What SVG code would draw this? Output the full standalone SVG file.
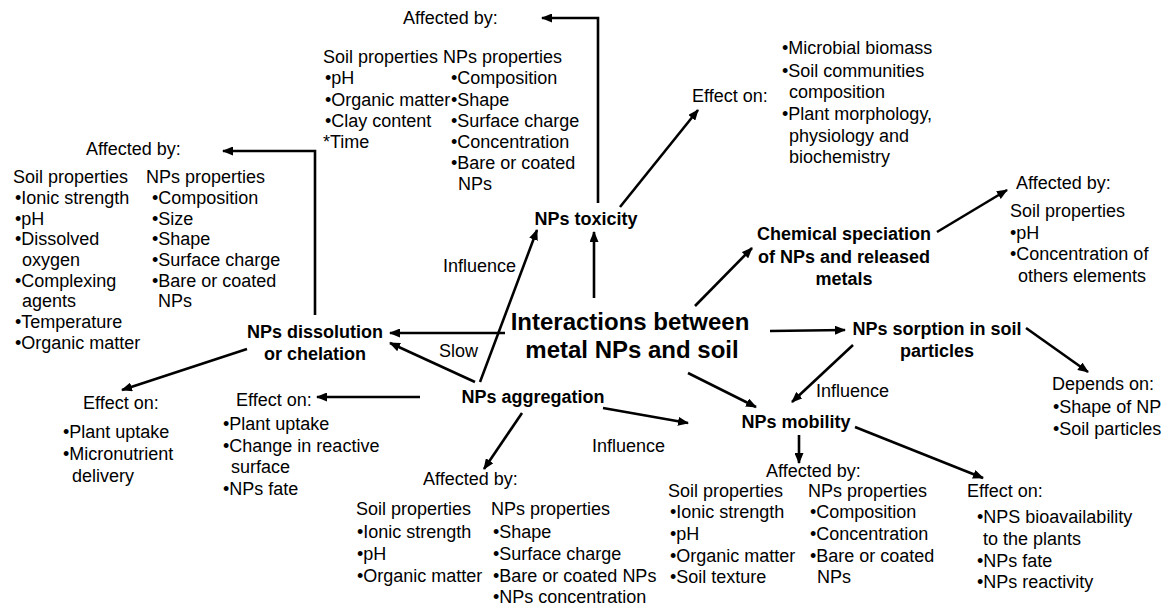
<svg xmlns="http://www.w3.org/2000/svg" width="1167" height="608" viewBox="0 0 1167 608">
<defs>
<marker id="ah" markerUnits="userSpaceOnUse" markerWidth="11" markerHeight="9" refX="10" refY="4.5" orient="auto">
<path d="M0,0 L11,4.5 L0,9 z" fill="#000"/>
</marker>
<style>
text{font-family:"Liberation Sans",Arial,sans-serif;font-size:18px;fill:#000}
.b{font-weight:bold}
.m{text-anchor:middle}
.t{font-size:24px;font-weight:bold;text-anchor:middle}
.c line,.c polyline{stroke:#000;stroke-width:2.6;fill:none;marker-end:url(#ah)}
</style>
</defs>
<rect width="1167" height="608" fill="#fff"/>
<g class="c" id="connectors">
<polyline points="598,203 598,18 542,18"/>
<line x1="620" y1="207" x2="698" y2="110"/>
<polyline points="315,315 315,151 223,151"/>
<line x1="505" y1="333" x2="390" y2="333"/>
<line x1="475" y1="382" x2="390" y2="343"/>
<line x1="480" y1="382" x2="537" y2="230"/>
<line x1="594" y1="298" x2="594" y2="232"/>
<line x1="695" y1="306" x2="752" y2="248"/>
<line x1="688" y1="373" x2="756" y2="407"/>
<line x1="770" y1="331" x2="845" y2="330"/>
<line x1="937" y1="232" x2="1007" y2="190"/>
<line x1="1026" y1="328" x2="1088" y2="372"/>
<line x1="853" y1="345" x2="792" y2="402"/>
<line x1="603" y1="408" x2="688" y2="423"/>
<line x1="799" y1="435" x2="799" y2="463"/>
<line x1="855" y1="427" x2="983" y2="478"/>
<line x1="522" y1="413" x2="484" y2="469"/>
<line x1="420" y1="397" x2="317" y2="397"/>
<line x1="247" y1="349" x2="122" y2="390"/>
</g>
<g id="labels">
<text x="443" y="272">Influence</text>
<text x="439" y="357">Slow</text>
<text x="592" y="452">Influence</text>
<text x="816" y="397">Influence</text>
</g>
<g id="center"><text class="t" x="630" y="330">Interactions between</text><text class="t" x="632" y="358">metal NPs and soil</text></g>
<g id="toxicity"><text class="b m" x="586" y="225">NPs toxicity</text></g>
<g id="dissolution"><text class="b m" x="315" y="338">NPs dissolution</text><text class="b m" x="315" y="360">or chelation</text></g>
<g id="aggregation"><text class="b m" x="533" y="403">NPs aggregation</text></g>
<g id="speciation"><text class="b m" x="844" y="240">Chemical speciation</text><text class="b m" x="844" y="263">of NPs and released</text><text class="b m" x="844" y="285">metals</text></g>
<g id="sorption"><text class="b m" x="937" y="335">NPs sorption in soil</text><text class="b m" x="937" y="357">particles</text></g>
<g id="mobility"><text class="b m" x="796" y="428">NPs mobility</text></g>
<g id="toxicity-affected">
<text x="403" y="24">Affected by:</text>
<text x="323" y="63">Soil properties</text>
<text x="325" y="84">•pH</text>
<text x="325" y="106">•Organic matter</text>
<text x="325" y="127">•Clay content</text>
<text x="323" y="148">*Time</text>
<text x="443" y="63">NPs properties</text>
<text x="451" y="84">•Composition</text>
<text x="451" y="106">•Shape</text>
<text x="451" y="127">•Surface charge</text>
<text x="451" y="148">•Concentration</text>
<text x="451" y="169">•Bare or coated</text>
<text x="458" y="190">NPs</text>
</g>
<g id="toxicity-effect">
<text x="692" y="102">Effect on:</text>
<text x="782" y="54">•Microbial biomass</text>
<text x="782" y="77">•Soil communities</text>
<text x="789" y="98">composition</text>
<text x="782" y="120">•Plant morphology,</text>
<text x="789" y="142">physiology and</text>
<text x="789" y="163">biochemistry</text>
</g>
<g id="dissolution-affected">
<text x="86" y="155">Affected by:</text>
<text x="13" y="183">Soil properties</text>
<text x="15" y="204">•Ionic strength</text>
<text x="15" y="225">•pH</text>
<text x="15" y="245">•Dissolved</text>
<text x="22" y="266">oxygen</text>
<text x="15" y="287">•Complexing</text>
<text x="22" y="307">agents</text>
<text x="15" y="328">•Temperature</text>
<text x="15" y="349">•Organic matter</text>
<text x="146" y="183">NPs properties</text>
<text x="152" y="204">•Composition</text>
<text x="152" y="225">•Size</text>
<text x="152" y="245">•Shape</text>
<text x="152" y="266">•Surface charge</text>
<text x="152" y="287">•Bare or coated</text>
<text x="158" y="307">NPs</text>
</g>
<g id="dissolution-effect">
<text x="83" y="409">Effect on:</text>
<text x="63" y="438">•Plant uptake</text>
<text x="63" y="460">•Micronutrient</text>
<text x="72" y="482">delivery</text>
</g>
<g id="aggregation-effect">
<text x="236" y="406">Effect on:</text>
<text x="223" y="430">•Plant uptake</text>
<text x="223" y="452">•Change in reactive</text>
<text x="231" y="473">surface</text>
<text x="223" y="495">•NPs fate</text>
</g>
<g id="aggregation-affected">
<text x="423" y="485">Affected by:</text>
<text x="356" y="515">Soil properties</text>
<text x="357" y="538">•Ionic strength</text>
<text x="357" y="560">•pH</text>
<text x="357" y="582">•Organic matter</text>
<text x="491" y="515">NPs properties</text>
<text x="493" y="538">•Shape</text>
<text x="493" y="560">•Surface charge</text>
<text x="493" y="582">•Bare or coated NPs</text>
<text x="493" y="603">•NPs concentration</text>
</g>
<g id="speciation-affected">
<text x="1016" y="189">Affected by:</text>
<text x="1010" y="217">Soil properties</text>
<text x="1010" y="239">•pH</text>
<text x="1010" y="260">•Concentration of</text>
<text x="1018" y="282">others elements</text>
</g>
<g id="sorption-depends">
<text x="1052" y="390">Depends on:</text>
<text x="1053" y="413">•Shape of NP</text>
<text x="1053" y="435">•Soil particles</text>
</g>
<g id="mobility-affected">
<text x="766" y="477">Affected by:</text>
<text x="668" y="497">Soil properties</text>
<text x="670" y="518">•Ionic strength</text>
<text x="670" y="540">•pH</text>
<text x="670" y="562">•Organic matter</text>
<text x="670" y="583">•Soil texture</text>
<text x="808" y="497">NPs properties</text>
<text x="810" y="518">•Composition</text>
<text x="810" y="540">•Concentration</text>
<text x="810" y="562">•Bare or coated</text>
<text x="817" y="583">NPs</text>
</g>
<g id="mobility-effect">
<text x="967" y="497">Effect on:</text>
<text x="977" y="523">•NPS bioavailability</text>
<text x="983" y="545">to the plants</text>
<text x="977" y="567">•NPs fate</text>
<text x="977" y="588">•NPs reactivity</text>
</g>
</svg>
